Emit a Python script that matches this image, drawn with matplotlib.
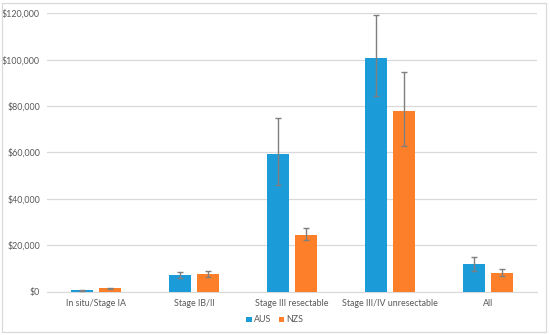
import numpy as np
import matplotlib.pyplot as plt
from matplotlib.patches import Rectangle
from matplotlib.ticker import FuncFormatter

categories = ['In situ/Stage IA', 'Stage IB/II', 'Stage III resectable',
              'Stage III/IV unresectable', 'All']
aus = [600, 7300, 59200, 100600, 11900]
aus_lo = [450, 5900, 46000, 84400, 9000]
aus_hi = [750, 8700, 74700, 119100, 14900]
nzs = [1400, 7600, 24500, 78000, 8000]
nzs_lo = [1200, 6200, 22200, 62800, 6700]
nzs_hi = [1600, 9000, 27500, 94900, 9700]

blue = '#1b9bd7'
orange = '#fe7f2a'
txt = '#595959'

plt.rcParams['font.family'] = ['Lato', 'DejaVu Sans']

fig = plt.figure(figsize=(5.5, 3.35), dpi=100)
ax = fig.add_axes([47 / 550, 1 - 291.7 / 335, 490 / 550, (291.7 - 13.3) / 335])

x = np.arange(len(categories))
w = 0.22
off = 0.143
err_aus = [np.array(aus) - np.array(aus_lo), np.array(aus_hi) - np.array(aus)]
err_nzs = [np.array(nzs) - np.array(nzs_lo), np.array(nzs_hi) - np.array(nzs)]
ekw = dict(ecolor='#7f7f7f', elinewidth=1.0, capsize=2.5, capthick=1.0)
ax.bar(x - off, aus, w, color=blue, label='AUS', yerr=err_aus, error_kw=ekw, zorder=3)
ax.bar(x + off, nzs, w, color=orange, label='NZS', yerr=err_nzs, error_kw=ekw, zorder=3)

ax.set_xlim(-0.5, len(categories) - 0.5)
ax.set_ylim(0, 120000)
ax.set_yticks(np.arange(0, 120001, 20000))
ax.yaxis.set_major_formatter(FuncFormatter(lambda v, p: '${:,.0f}'.format(v)))
ax.set_xticks(x)
ax.set_xticklabels(categories)
ax.grid(axis='y', color='#d9d9d9', linewidth=0.9, zorder=0)
for s in ['top', 'right', 'left']:
    ax.spines[s].set_visible(False)
ax.spines['bottom'].set_color('#d9d9d9')
ax.tick_params(axis='both', length=0, labelsize=6.4, colors=txt)
ax.tick_params(axis='y', pad=5)
ax.tick_params(axis='x', pad=5)

leg = fig.legend(loc='center', bbox_to_anchor=(0.5, 1 - 320 / 335), ncol=2,
                 frameon=False, fontsize=6.4, handlelength=0.6, handleheight=0.6,
                 handletextpad=0.3, columnspacing=0.8)
for t in leg.get_texts():
    t.set_color(txt)

fig.patches.append(Rectangle((2 / 550, 1 - 332 / 335), 544 / 550, 329 / 335,
                             transform=fig.transFigure, fill=False,
                             edgecolor='#d9d9d9', linewidth=0.9))

fig.savefig('out.png', dpi=100)
